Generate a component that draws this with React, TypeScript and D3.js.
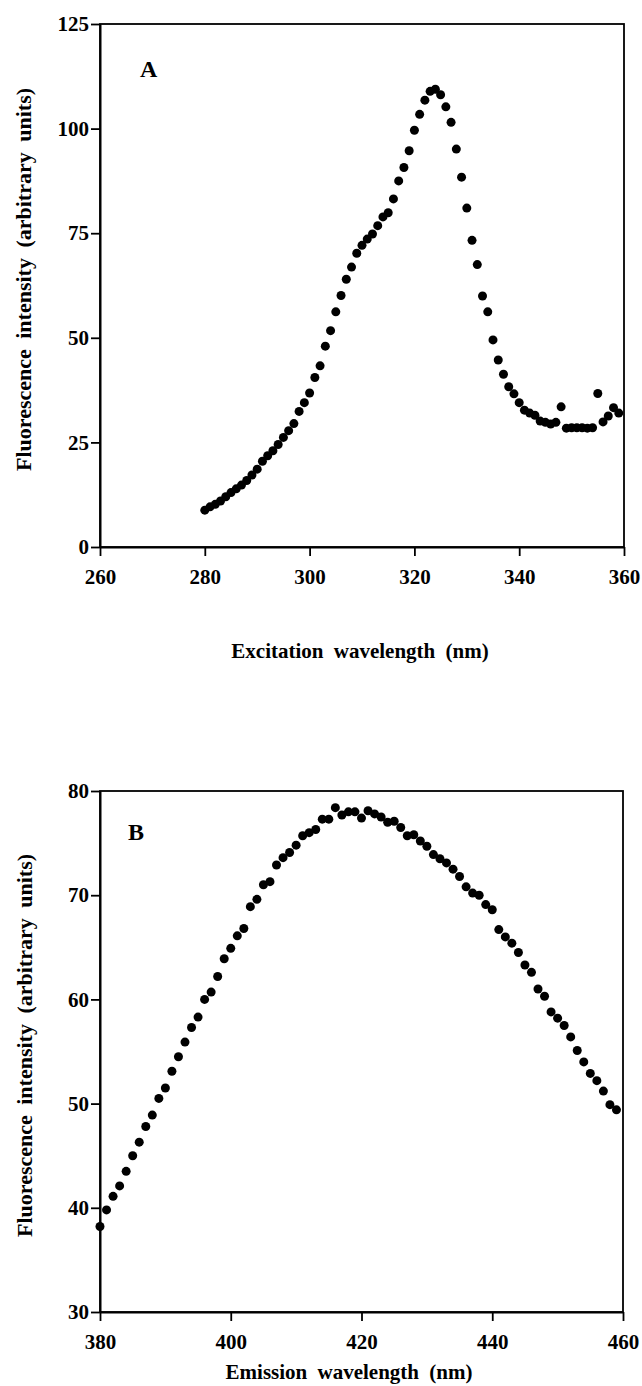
import React, { useEffect, useRef } from 'react';
import * as d3 from 'd3';

// Panel A: excitation spectrum
const excitationWl = [
  280, 281, 282, 283, 284, 285, 286, 287, 288, 289,
  290, 291, 292, 293, 294, 295, 296, 297, 298, 299,
  300, 301, 302, 303, 304, 305, 306, 307, 308, 309,
  310, 311, 312, 313, 314, 315, 316, 317, 318, 319,
  320, 321, 322, 323, 324, 325, 326, 327, 328, 329,
  330, 331, 332, 333, 334, 335, 336, 337, 338, 339,
  340, 341, 342, 343, 344, 345, 346, 347, 348, 349,
  350, 351, 352, 353, 354, 355, 356, 357, 358, 359,
];
const excitationIntensity = [
  8.8, 9.6, 10.2, 11.0, 12.0, 13.0, 13.9, 14.8, 15.9, 17.2,
  18.6, 20.5, 21.8, 23.0, 24.5, 26.2, 27.8, 29.5, 32.4, 34.5,
  36.8, 40.5, 43.3, 48.0, 51.7, 56.2, 60.1, 64.0, 66.9, 70.2,
  72.1, 73.6, 74.8, 76.8, 78.9, 79.9, 83.2, 87.5, 90.7, 94.7,
  99.6, 103.4, 106.8, 108.9, 109.4, 108.1, 105.2, 101.5, 95.1, 88.4,
  81.0, 73.3, 67.5, 60.0, 56.2, 49.5, 44.7, 41.3, 38.3, 36.6,
  34.5, 32.7, 32.0, 31.5, 30.1, 29.8, 29.4, 29.8, 33.5, 28.4,
  28.5, 28.5, 28.5, 28.4, 28.5, 36.7, 29.9, 31.3, 33.3, 32.0,
];
const excitationXTicks = [260, 280, 300, 320, 340, 360];
const excitationYTicks = [0, 25, 50, 75, 100, 125];

// Panel B: emission spectrum
const emissionWl = [
  380, 381, 382, 383, 384, 385, 386, 387, 388, 389,
  390, 391, 392, 393, 394, 395, 396, 397, 398, 399,
  400, 401, 402, 403, 404, 405, 406, 407, 408, 409,
  410, 411, 412, 413, 414, 415, 416, 417, 418, 419,
  420, 421, 422, 423, 424, 425, 426, 427, 428, 429,
  430, 431, 432, 433, 434, 435, 436, 437, 438, 439,
  440, 441, 442, 443, 444, 445, 446, 447, 448, 449,
  450, 451, 452, 453, 454, 455, 456, 457, 458, 459,
];
const emissionIntensity = [
  38.2, 39.8, 41.1, 42.1, 43.5, 45.0, 46.3, 47.8, 48.9, 50.5,
  51.5, 53.1, 54.5, 55.9, 57.3, 58.3, 60.0, 60.7, 62.2, 63.9,
  64.9, 66.1, 66.8, 68.9, 69.6, 71.0, 71.3, 72.9, 73.6, 74.1,
  74.8, 75.7, 76.0, 76.3, 77.3, 77.3, 78.4, 77.7, 78.0, 78.0,
  77.4, 78.1, 77.8, 77.5, 77.0, 77.1, 76.5, 75.7, 75.8, 75.2,
  74.7, 73.9, 73.5, 73.1, 72.5, 71.8, 70.8, 70.2, 70.0, 69.1,
  68.6, 66.7, 66.0, 65.4, 64.5, 63.3, 62.6, 61.0, 60.3, 58.8,
  58.2, 57.5, 56.4, 55.1, 54.0, 52.9, 52.2, 51.2, 49.9, 49.4,
];
const emissionXTicks = [380, 400, 420, 440, 460];
const emissionYTicks = [30, 40, 50, 60, 70, 80];

const FONT = '"Liberation Serif", "Times New Roman", serif';

function drawPanel(svg, cfg) {
  const { left, right, top, bottom, xDomain, yDomain, xs, ys, xTicks, yTicks, letter, letterPos, xTitle, xTitlePos, yTitleX } = cfg;
  const x = d3.scaleLinear().domain(xDomain).range([left, right]);
  const y = d3.scaleLinear().domain(yDomain).range([bottom, top]);
  const g = svg.append('g');

  // frame
  g.append('rect')
    .attr('x', left).attr('y', top)
    .attr('width', right - left).attr('height', bottom - top)
    .attr('fill', 'none').attr('stroke', '#000').attr('stroke-width', 1.8);

  const xAxis = g.append('g')
    .attr('transform', `translate(0,${bottom})`)
    .call(d3.axisBottom(x).tickValues(xTicks).tickSize(9).tickPadding(8).tickSizeOuter(0));
  const yAxis = g.append('g')
    .attr('transform', `translate(${left},0)`)
    .call(d3.axisLeft(y).tickValues(yTicks).tickSize(9).tickPadding(2).tickSizeOuter(0));
  [xAxis, yAxis].forEach(a => {
    a.select('.domain').attr('stroke-width', 2);
    a.selectAll('.tick line').attr('stroke-width', 1.8);
    a.selectAll('text')
      .attr('font-family', FONT)
      .attr('font-weight', 'bold')
      .attr('font-size', 21)
      .attr('fill', '#000');
  });
  xAxis.selectAll('text').attr('dy', '0.95em');

  g.append('g').selectAll('circle')
    .data(xs.map((d, i) => [d, ys[i]]))
    .enter()
    .append('circle')
    .attr('cx', d => x(d[0]))
    .attr('cy', d => y(d[1]))
    .attr('r', 4.5)
    .attr('fill', '#000');

  g.append('text')
    .attr('x', letterPos[0]).attr('y', letterPos[1])
    .attr('font-family', FONT).attr('font-weight', 'bold').attr('font-size', 24)
    .text(letter);

  g.append('text')
    .attr('x', xTitlePos[0]).attr('y', xTitlePos[1])
    .attr('text-anchor', 'middle')
    .attr('font-family', FONT).attr('font-weight', 'bold').attr('font-size', 21)
    .attr('word-spacing', 5)
    .text(xTitle);

  g.append('text')
    .attr('transform', `translate(${yTitleX},${(top + bottom) / 2 - 6}) rotate(-90)`)
    .attr('text-anchor', 'middle')
    .attr('font-family', FONT).attr('font-weight', 'bold').attr('font-size', 22)
    .attr('word-spacing', 5)
    .text('Fluorescence intensity (arbitrary units)');
}

export default function App() {
  const svgRef = useRef(null);

  useEffect(() => {
    const svg = d3.select(svgRef.current);
    svg.selectAll('*').remove();

    drawPanel(svg, {
      left: 100, right: 624, top: 24, bottom: 547,
      xDomain: [260, 360], yDomain: [0, 125],
      xs: excitationWl, ys: excitationIntensity,
      xTicks: excitationXTicks, yTicks: excitationYTicks,
      letter: 'A', letterPos: [140, 77],
      xTitle: 'Excitation wavelength (nm)', xTitlePos: [360, 658],
      yTitleX: 31,
    });

    drawPanel(svg, {
      left: 100, right: 623, top: 791, bottom: 1312,
      xDomain: [380, 460], yDomain: [30, 80],
      xs: emissionWl, ys: emissionIntensity,
      xTicks: emissionXTicks, yTicks: emissionYTicks,
      letter: 'B', letterPos: [128, 840],
      xTitle: 'Emission wavelength (nm)', xTitlePos: [349, 1379],
      yTitleX: 32,
    });
  }, []);

  return (
    <svg
      ref={svgRef}
      width={642}
      height={1386}
      style={{ position: 'absolute', left: 0, top: 0, background: '#fff' }}
    />
  );
}
